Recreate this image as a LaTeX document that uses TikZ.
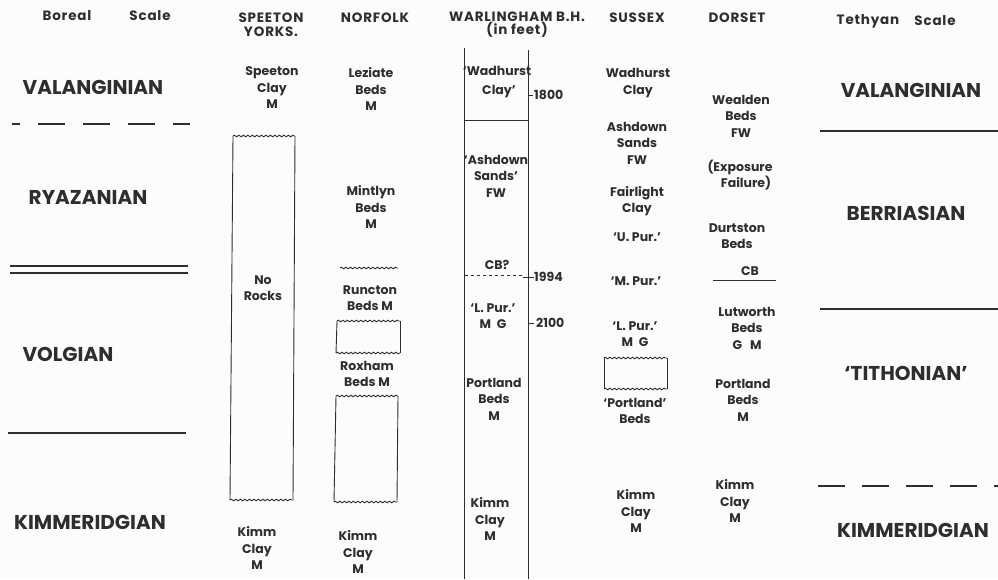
\documentclass[tikz,border=0pt]{standalone}
\usepackage{fontspec}
\setmainfont{Poppins}
\newfontfamily\hdrfont[LetterSpace=6]{Poppins}
\usetikzlibrary{decorations.pathmorphing}
\definecolor{ink}{HTML}{2E2E2E}
\definecolor{paper}{HTML}{FCFCFA}
\tikzset{
  lbl/.style={font=\fontsize{12.5}{16.5}\selectfont\bfseries, align=center, inner sep=0pt, text=ink},
  hdr/.style={font=\hdrfont\fontsize{13.5}{13.5}\selectfont\bfseries, align=center, inner sep=0pt, text=ink},
  stage/.style={font=\fontsize{20}{24}\selectfont\bfseries, inner sep=0pt, text=ink},
  rule/.style={draw=ink, line width=1.1pt},
  thin/.style={draw=ink, line width=0.9pt},
  wavy/.style={draw=ink, line width=0.9pt, decorate, decoration={snake, amplitude=0.8pt, segment length=4.5pt}},
}
\begin{document}
\begin{tikzpicture}[x=1pt,y=-1pt]
\fill[paper] (0,0) rectangle (998,579);
\useasboundingbox (0,0) rectangle (998,579);

% headers
\node[hdr] (hbor) at (67,16) {Boreal};
\node[hdr] (hbsc) at (150,16) {Scale};
\node[hdr] (hspe) at (271,24.5) {SPEETON\\YORKS.};
\node[hdr] (hnor) at (375,18) {NORFOLK};
\node[hdr] (hwar) at (517,24.5) {WARLINGHAM B.H.\\(in feet)};
\node[hdr] (hsus) at (637,18) {SUSSEX};
\node[hdr] (hdor) at (737,18) {DORSET};
\node[hdr] (htet) at (868,21) {Tethyan};
\node[hdr] (htsc) at (935,21) {Scale};

% Boreal scale
\node[stage] (bval) at (93,87) {VALANGINIAN};
\node[stage] (brya) at (88,197) {RYAZANIAN};
\node[stage] (bvol) at (68,354) {VOLGIAN};
\node[stage] (bkim) at (90,522) {KIMMERIDGIAN};
\draw[rule, dash pattern=on 27pt off 18pt, dash phase=19pt] (12,124) -- (190,124);
\draw[rule] (10,266) -- (188,266);
\draw[rule] (10,273) -- (188,273);
\draw[rule] (8,433) -- (186,433);

% Tethyan scale
\node[stage] (tval) at (911,90) {VALANGINIAN};
\node[stage] (tber) at (906,213) {BERRIASIAN};
\node[stage] (ttit) at (906,373) {`TITHONIAN'};
\node[stage] (tkim) at (913,530) {KIMMERIDGIAN};
\draw[rule] (820,131) -- (998,131);
\draw[rule] (820,309) -- (998,309);
\draw[rule, dash pattern=on 27pt off 17pt] (818,486) -- (998,486);

% Speeton
\node[lbl] (spc) at (272,88) {Speeton\\Clay\\M};
\node[lbl] (snr) at (263,288) {No\\Rocks};
\node[lbl] (skc) at (257,548) {Kimm\\Clay\\M};
\draw[wavy] (233,136) -- (295,136);
\draw[thin] (233,136) -- (230,500);
\draw[thin] (295,136) -- (293,500);
\draw[wavy] (230,500) -- (293,500);

% Norfolk
\node[lbl] (nlb) at (371,89) {Leziate\\Beds\\M};
\node[lbl] (nmb) at (371,207) {Mintlyn\\Beds\\M};
\draw[wavy] (340,268) -- (398,268);
\node[lbl] (nrb) at (370,298) {Runcton\\Beds M};
\draw[wavy] (337,321) -- (400,321);
\draw[thin] (337,321) -- (336,353);
\draw[thin] (400,321) -- (400,353);
\draw[wavy] (336,353) -- (400,353);
\node[lbl] (nxb) at (367,374) {Roxham\\Beds M};
\draw[wavy] (336,396) -- (398,396);
\draw[thin] (336,396) -- (334,502);
\draw[thin] (398,396) -- (397,502);
\draw[wavy] (334,502) -- (397,502);
\node[lbl] (nkc) at (358,552) {Kimm\\Clay\\M};

% Warlingham borehole
\draw[thin] (464,48) -- (464,579);
\draw[thin] (528,50) -- (528,579);
\draw[thin] (464,120) -- (528,120);
\draw[thin, dashed] (465,275) -- (523,275);
\draw[thin] (528,95) -- (533,95);
\draw[thin] (523,277) -- (534,277);
\draw[thin] (528,323) -- (534,323);
\node[lbl, anchor=west] (w1800) at (534,95) {1800};
\node[lbl, anchor=west] (w1994) at (534,277) {1994};
\node[lbl, anchor=west] (w2100) at (536,323) {2100};
\node[lbl] (wwc) at (497,82) {`Wadhurst\\[3pt]\hspace*{4pt}Clay'};
\node[lbl] (wasf) at (496,176) {`Ashdown\\Sands'\\FW};
\node[lbl] (wcb) at (497,265) {CB?};
\node[lbl] (wlp) at (493,316) {`L. Pur.'\\M\hspace{6pt}G};
\node[lbl] (wpb) at (494,399) {Portland\\Beds\\M};
\node[lbl] (wkc) at (490,519) {Kimm\\Clay\\M};

% Sussex
\node[lbl] (swc) at (638,83) {Wadhurst\\Clay};
\node[lbl] (sas) at (637,143) {Ashdown\\Sands\\FW};
\node[lbl] (sfc) at (637,201) {Fairlight\\Clay};
\node[lbl] (sup) at (637,237) {`U. Pur.'};
\node[lbl] (smp) at (636,281) {`M. Pur.'};
\node[lbl] (slp) at (635,334) {`L. Pur.'\\M\hspace{6pt}G};
\draw[wavy] (604,358) -- (667,358);
\draw[thin] (604,358) -- (604,389);
\draw[thin] (667,358) -- (667,389);
\draw[wavy] (604,389) -- (667,389);
\node[lbl] (spb) at (635,411) {`Portland'\\Beds};
\node[lbl] (skc2) at (636,511) {Kimm\\Clay\\M};

% Dorset
\node[lbl] (dwb) at (741,116) {Wealden\\Beds\\FW};
\node[lbl] (def) at (740,175) {(Exposure\\\hspace*{12pt}Failure)};
\node[lbl] (ddb) at (737,236) {Durtston\\Beds};
\node[lbl] (dcb) at (750,271) {CB};
\draw[thin] (713,280) -- (776,280);
\node[lbl] (dlb) at (747,328) {Lutworth\\Beds\\G\hspace{8pt}M};
\node[lbl] (dpb) at (743,400) {Portland\\Beds\\M};
\node[lbl] (dkc) at (735,501) {Kimm\\Clay\\M};
\end{tikzpicture}
\end{document}
